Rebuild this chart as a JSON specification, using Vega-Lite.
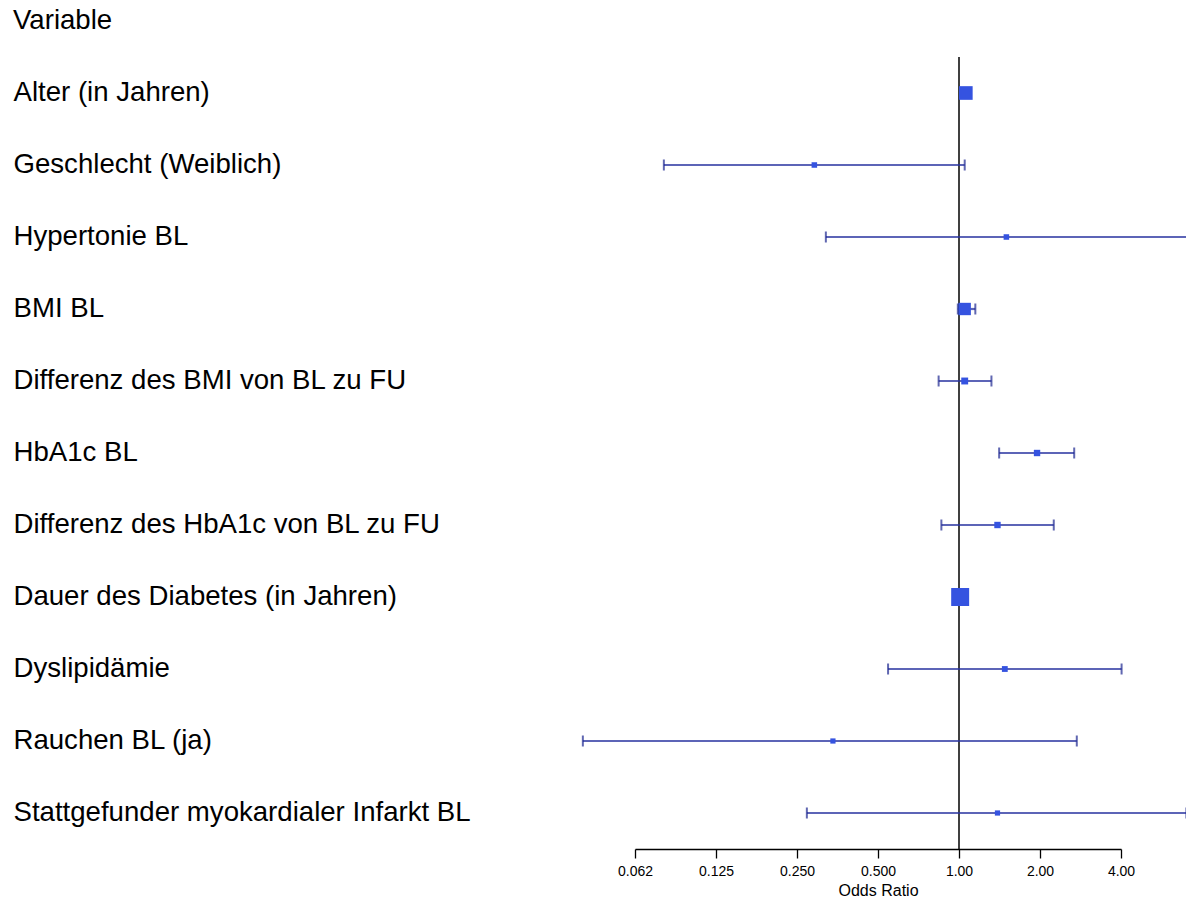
{
  "$schema": "https://vega.github.io/schema/vega-lite/v6.json",
  "padding": {"left": 13, "top": 6, "right": 0, "bottom": 0},
  "autosize": {"type": "pad"},
  "width": 626,
  "height": 792,
  "title": {"text": "Variable", "anchor": "start", "fontSize": 27.6, "fontWeight": "normal", "font": "Liberation Sans", "color": "#000000", "offset": 22},
  "config": {"view": {"stroke": null}, "font": "Liberation Sans"},
  "datasets": {
    "rows": [
      {"variable": "Alter (in Jahren)", "or": 1.06, "lo": 1.03, "hi": 1.09, "weight": 0.55},
      {"variable": "Geschlecht (Weiblich)", "or": 0.29, "lo": 0.08, "hi": 1.05, "weight": 0.09},
      {"variable": "Hypertonie BL", "or": 1.5, "lo": 0.32, "hi": 9.0, "weight": 0.09},
      {"variable": "BMI BL", "or": 1.05, "lo": 0.99, "hi": 1.15, "weight": 0.45},
      {"variable": "Differenz des BMI von BL zu FU", "or": 1.05, "lo": 0.84, "hi": 1.32, "weight": 0.14},
      {"variable": "HbA1c BL", "or": 1.95, "lo": 1.41, "hi": 2.68, "weight": 0.12},
      {"variable": "Differenz des HbA1c von BL zu FU", "or": 1.39, "lo": 0.86, "hi": 2.25, "weight": 0.12},
      {"variable": "Dauer des Diabetes (in Jahren)", "or": 1.01, "lo": 0.99, "hi": 1.03, "weight": 0.95},
      {"variable": "Dyslipidämie", "or": 1.48, "lo": 0.545, "hi": 4.02, "weight": 0.1},
      {"variable": "Rauchen BL (ja)", "or": 0.34, "lo": 0.04, "hi": 2.74, "weight": 0.08},
      {"variable": "Stattgefunder myokardialer Infarkt BL", "or": 1.39, "lo": 0.272, "hi": 7.0, "weight": 0.08}
    ],
    "ref": [{"or": 1}]
  },
  "encoding": {
    "y": {
      "field": "variable", "type": "nominal", "sort": null,
      "scale": {"type": "band", "paddingInner": 0, "paddingOuter": 0},
      "axis": {"title": null, "domain": false, "ticks": false, "labelAlign": "left", "labelPadding": 547, "labelLimit": 0, "labelFontSize": 27.6, "labelColor": "#000000", "labelFont": "Liberation Sans"}
    }
  },
  "layer": [
    {
      "data": {"name": "ref"},
      "mark": {"type": "rule", "color": "#000000", "strokeWidth": 1.5},
      "encoding": {
        "y": null,
        "x": {"field": "or", "type": "quantitative",
          "scale": {"type": "log", "base": 2, "domain": [0.0625, 4], "range": [75, 561]},
          "axis": {"values": [0.0625, 0.125, 0.25, 0.5, 1, 2, 4], "labelExpr": "datum.value < 1 ? format(floor(datum.value*1000)/1000, '.3f') : format(datum.value, '.2f')", "title": "Odds Ratio", "titleFontSize": 16, "titleFontWeight": "normal", "titleColor": "#000000", "titlePadding": 4, "labelFontSize": 14, "labelColor": "#000000", "labelPadding": 6, "domainColor": "#000000", "domainWidth": 1.3, "tickColor": "#000000", "tickSize": 9, "tickWidth": 1.3, "grid": false, "labelFlush": false}}
      }
    },
    {
      "data": {"name": "rows"},
      "mark": {"type": "rule", "color": "#26309f", "strokeWidth": 2.2, "opacity": 0.75, "clip": true},
      "encoding": {
        "x": {"field": "lo", "type": "quantitative"},
        "x2": {"field": "hi"}
      }
    },
    {
      "data": {"name": "rows"},
      "mark": {"type": "tick", "color": "#1c2690", "thickness": 2, "size": 11, "clip": true, "orient": "vertical"},
      "encoding": {"x": {"field": "lo", "type": "quantitative"}}
    },
    {
      "data": {"name": "rows"},
      "mark": {"type": "tick", "color": "#1c2690", "thickness": 2, "size": 11, "clip": true, "orient": "vertical"},
      "encoding": {"x": {"field": "hi", "type": "quantitative"}}
    },
    {
      "data": {"name": "rows"},
      "mark": {"type": "point", "shape": "square", "filled": true, "color": "#3553e0", "opacity": 1, "clip": true},
      "encoding": {
        "x": {"field": "or", "type": "quantitative"},
        "size": {"field": "weight", "type": "quantitative", "scale": {"domain": [0, 1], "range": [0, 340]}, "legend": null}
      }
    }
  ]
}
